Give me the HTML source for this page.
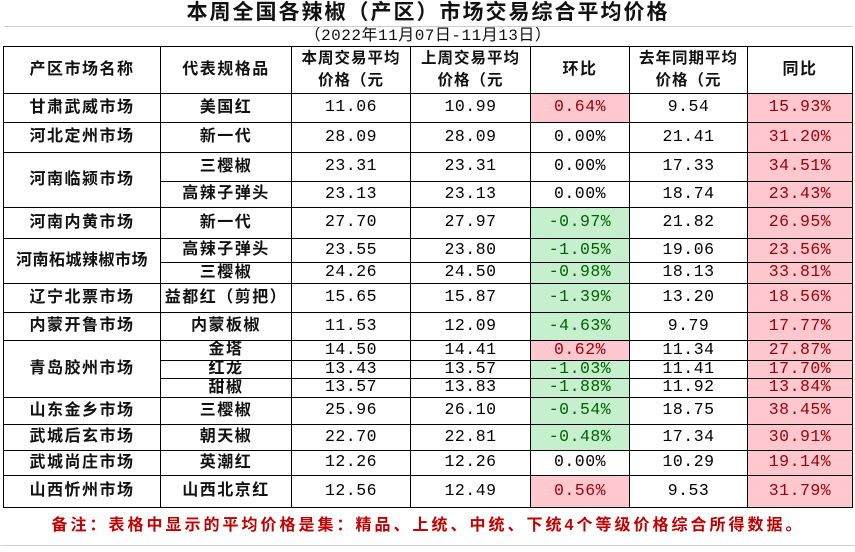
<!DOCTYPE html>
<html><head><meta charset="utf-8"><style>
html,body{margin:0;padding:0;background:#fff;width:855px;height:552px;overflow:hidden}
table{position:absolute;left:3px;top:0;border-collapse:collapse;table-layout:fixed;font-family:"Liberation Sans","Noto Sans CJK SC",sans-serif;font-weight:bold;font-size:16px;color:#111;letter-spacing:1.5px}
td{border:1px solid #000;padding:0;text-align:center;white-space:nowrap;overflow:hidden;line-height:1}
.n{font-family:"Liberation Mono","Noto Sans CJK SC",monospace;font-weight:normal;font-size:16.5px;color:#000;letter-spacing:0.5px}
.r{background:#ffc7ce;color:#9c0006}
.g{background:#c6efce;color:#006100}
.t{border:none;font-size:21px;letter-spacing:2px}
.s{border-left:none;border-right:none;border-top:1px solid #ccc;font-size:16px;font-weight:normal;font-family:"Liberation Mono","Noto Sans CJK SC",monospace;line-height:1;letter-spacing:0.5px}
.h{font-size:15.5px;line-height:22px;white-space:normal;letter-spacing:1px}
.note{border:1px solid #000;color:#c00000;font-size:16px;letter-spacing:3px}
</style></head><body>
<div style="position:absolute;left:0;top:0;width:855px;height:552px;background:
linear-gradient(#d9d9d9,#d9d9d9) 0 545px/855px 1px no-repeat"></div>
<table>
<colgroup><col style="width:157px"><col style="width:131px"><col style="width:119px"><col style="width:120px"><col style="width:99px"><col style="width:118px"><col style="width:105px"></colgroup>
<tr style="height:26px"><td colspan="7" class="t">本周全国各辣椒（产区）市场交易综合平均价格</td></tr>
<tr style="height:20px"><td colspan="7" class="s">（2022年11月07日-11月13日）</td></tr>
<tr style="height:47px"><td>产区市场名称</td><td>代表规格品</td><td class="h">本周交易平均<br>价格（元</td><td class="h">上周交易平均<br>价格（元</td><td>环比</td><td class="h">去年同期平均<br>价格（元</td><td>同比</td></tr>
<tr style="height:29px"><td>甘肃武威市场</td><td>美国红</td><td class="n">11.06</td><td class="n">10.99</td><td class="n r">0.64%</td><td class="n">9.54</td><td class="n r">15.93%</td></tr>
<tr style="height:30px"><td>河北定州市场</td><td>新一代</td><td class="n">28.09</td><td class="n">28.09</td><td class="n">0.00%</td><td class="n">21.41</td><td class="n r">31.20%</td></tr>
<tr style="height:29px"><td rowspan="2">河南临颍市场</td><td>三樱椒</td><td class="n">23.31</td><td class="n">23.31</td><td class="n">0.00%</td><td class="n">17.33</td><td class="n r">34.51%</td></tr>
<tr style="height:26px"><td>高辣子弹头</td><td class="n">23.13</td><td class="n">23.13</td><td class="n">0.00%</td><td class="n">18.74</td><td class="n r">23.43%</td></tr>
<tr style="height:31px"><td>河南内黄市场</td><td>新一代</td><td class="n">27.70</td><td class="n">27.97</td><td class="n g">-0.97%</td><td class="n">21.82</td><td class="n r">26.95%</td></tr>
<tr style="height:24px"><td rowspan="2" style="letter-spacing:0.5px">河南柘城辣椒市场</td><td>高辣子弹头</td><td class="n">23.55</td><td class="n">23.80</td><td class="n g">-1.05%</td><td class="n">19.06</td><td class="n r">23.56%</td></tr>
<tr style="height:21px"><td>三樱椒</td><td class="n">24.26</td><td class="n">24.50</td><td class="n g">-0.98%</td><td class="n">18.13</td><td class="n r">33.81%</td></tr>
<tr style="height:29px"><td>辽宁北票市场</td><td>益都红（剪把）</td><td class="n">15.65</td><td class="n">15.87</td><td class="n g">-1.39%</td><td class="n">13.20</td><td class="n r">18.56%</td></tr>
<tr style="height:28px"><td>内蒙开鲁市场</td><td>内蒙板椒</td><td class="n">11.53</td><td class="n">12.09</td><td class="n g">-4.63%</td><td class="n">9.79</td><td class="n r">17.77%</td></tr>
<tr style="height:20px"><td rowspan="3">青岛胶州市场</td><td>金塔</td><td class="n">14.50</td><td class="n">14.41</td><td class="n r">0.62%</td><td class="n">11.34</td><td class="n r">27.87%</td></tr>
<tr style="height:18px"><td>红龙</td><td class="n">13.43</td><td class="n">13.57</td><td class="n g">-1.03%</td><td class="n">11.41</td><td class="n r">17.70%</td></tr>
<tr style="height:19px"><td>甜椒</td><td class="n">13.57</td><td class="n">13.83</td><td class="n g">-1.88%</td><td class="n">11.92</td><td class="n r">13.84%</td></tr>
<tr style="height:27px"><td>山东金乡市场</td><td>三樱椒</td><td class="n">25.96</td><td class="n">26.10</td><td class="n g">-0.54%</td><td class="n">18.75</td><td class="n r">38.45%</td></tr>
<tr style="height:26px"><td>武城后玄市场</td><td>朝天椒</td><td class="n">22.70</td><td class="n">22.81</td><td class="n g">-0.48%</td><td class="n">17.34</td><td class="n r">30.91%</td></tr>
<tr style="height:25px"><td>武城尚庄市场</td><td>英潮红</td><td class="n">12.26</td><td class="n">12.26</td><td class="n">0.00%</td><td class="n">10.29</td><td class="n r">19.14%</td></tr>
<tr style="height:32px"><td>山西忻州市场</td><td>山西北京红</td><td class="n">12.56</td><td class="n">12.49</td><td class="n r">0.56%</td><td class="n">9.53</td><td class="n r">31.79%</td></tr>
<tr style="height:38px"><td colspan="7" class="note" style="border-bottom:1px solid #ccc;border-left:none;border-right:none">备注：表格中显示的平均价格是集：精品、上统、中统、下统4个等级价格综合所得数据。</td></tr>
</table>
</body></html>
